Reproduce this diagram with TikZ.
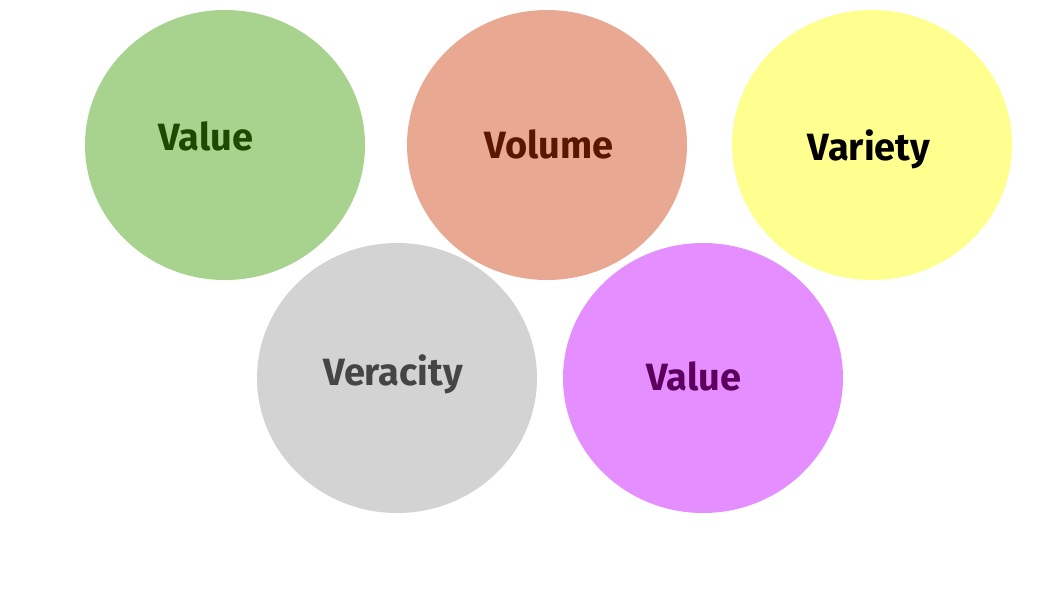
\documentclass[tikz,border=0pt]{standalone}
\usepackage{fontspec}
\setmainfont{Fira Sans}
\usetikzlibrary{shapes.geometric}
\begin{document}
\begin{tikzpicture}[x=1pt,y=-1pt,
  blob/.style={ellipse,minimum width=280pt,minimum height=270pt,inner sep=0pt,draw=none},
  lbl/.style={font=\fontsize{38}{40}\selectfont\bfseries}]
\useasboundingbox (0,0) rectangle (1046,590);
\fill[white] (0,0) rectangle (1046,590);
\definecolor{cgreen}{HTML}{A7D38F}
\definecolor{csalmon}{HTML}{E8A891}
\definecolor{cyellow}{HTML}{FFFF8F}
\definecolor{cgray}{HTML}{D3D3D3}
\definecolor{cviolet}{HTML}{E48EFF}
\definecolor{tgreen}{HTML}{1E4A00}
\definecolor{tbrown}{HTML}{5A1600}
\definecolor{tgray}{HTML}{454545}
\definecolor{tpurple}{HTML}{5E005E}
\node[blob,fill=cgreen] (e1) at (225,145) {};
\node[blob,fill=csalmon] (e2) at (547,145) {};
\node[blob,fill=cyellow] (e3) at (872,145) {};
\node[blob,fill=cgray] (e4) at (397,378) {};
\node[blob,fill=cviolet] (e5) at (703,378) {};
\node[lbl,text=tgreen] (t1) at (206,136) {Value};
\node[lbl,text=tbrown] (t2) at (549,144) {Volume};
\node[lbl,text=black] (t3) at (869,149) {Variety};
\node[lbl,text=tgray] (t4) at (393,374) {Veracity};
\node[lbl,text=tpurple] (t5) at (694,376) {Value};
\end{tikzpicture}
\end{document}
